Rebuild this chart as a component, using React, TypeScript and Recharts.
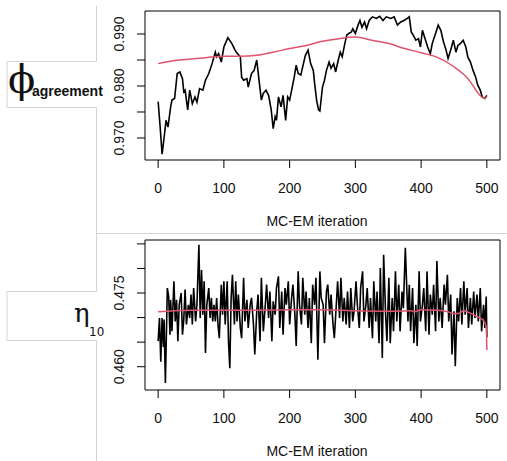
import { LineChart, Line, XAxis, YAxis, ReferenceArea } from "recharts";

// phi_agreement trace (MC-EM iteration, value)
const phiIter = [0, 3, 6, 9, 12, 15, 19, 21, 25, 29, 33, 37, 39, 41, 45, 48, 52, 56, 59, 63, 68, 72, 77, 82, 87, 89, 92, 96, 100, 106, 112, 117, 119, 125, 127, 130, 135, 137, 142, 146, 150, 154, 157, 160, 164, 168, 172, 175, 178, 180, 183, 187, 190, 194, 197, 200, 204, 207, 210, 213, 217, 221, 224, 228, 232, 236, 238, 241, 244, 246, 250, 253, 256, 260, 263, 267, 270, 274, 277, 280, 284, 287, 290, 294, 296, 300, 304, 307, 310, 314, 317, 321, 326, 332, 337, 342, 347, 354, 359, 364, 369, 374, 379, 382, 385, 388, 392, 396, 399, 402, 406, 410, 414, 417, 422, 426, 430, 434, 438, 441, 445, 449, 453, 456, 460, 464, 468, 471, 475, 479, 483, 486, 490, 493, 497, 500];
const phiValue = [0.977, 0.9722, 0.9669, 0.97, 0.9734, 0.9721, 0.976, 0.9773, 0.9776, 0.9824, 0.9827, 0.9814, 0.9789, 0.9792, 0.9754, 0.9792, 0.9766, 0.9779, 0.9769, 0.9795, 0.9792, 0.9811, 0.9824, 0.9843, 0.9865, 0.9856, 0.9862, 0.9846, 0.9875, 0.9893, 0.9882, 0.9869, 0.9865, 0.9856, 0.9817, 0.9811, 0.9814, 0.9798, 0.9824, 0.983, 0.985, 0.9805, 0.9773, 0.9786, 0.9792, 0.9782, 0.9754, 0.9718, 0.9741, 0.9734, 0.9779, 0.976, 0.9782, 0.9734, 0.9779, 0.9773, 0.9798, 0.9817, 0.984, 0.9824, 0.9821, 0.9843, 0.9859, 0.9869, 0.9843, 0.983, 0.9805, 0.9773, 0.9754, 0.9752, 0.9798, 0.9811, 0.983, 0.9846, 0.9834, 0.9843, 0.9827, 0.985, 0.9865, 0.9856, 0.9882, 0.9898, 0.9901, 0.9904, 0.991, 0.9901, 0.9917, 0.9926, 0.9913, 0.9923, 0.991, 0.9926, 0.9933, 0.993, 0.9934, 0.9926, 0.9933, 0.993, 0.9933, 0.9917, 0.9923, 0.9926, 0.993, 0.9933, 0.9904, 0.9898, 0.9888, 0.9891, 0.9875, 0.9907, 0.9891, 0.9875, 0.9862, 0.9882, 0.9901, 0.9917, 0.9907, 0.9885, 0.9869, 0.9853, 0.9869, 0.9888, 0.9865, 0.9878, 0.9882, 0.9888, 0.9875, 0.9856, 0.9846, 0.983, 0.9817, 0.9802, 0.9792, 0.9779, 0.9776, 0.9782];

// running mean of phi_agreement
const phiMeanIter = [0, 25, 50, 75, 100, 125, 150, 175, 200, 225, 250, 275, 300, 325, 350, 375, 400, 425, 450, 465, 475, 485, 492, 497, 500];
const phiMeanValue = [0.9843, 0.9849, 0.9852, 0.9855, 0.9857, 0.9857, 0.9859, 0.9865, 0.9872, 0.9878, 0.9886, 0.9891, 0.9894, 0.9888, 0.9882, 0.9872, 0.9864, 0.9855, 0.9837, 0.9822, 0.9808, 0.9789, 0.9779, 0.9776, 0.978];

// eta_10 trace
const etaIter = [0, 2, 4, 6, 8, 9, 11, 14, 16, 18, 19, 21, 24, 26, 28, 30, 32, 35, 37, 39, 41, 43, 46, 48, 50, 52, 54, 57, 59, 62, 64, 66, 68, 70, 72, 74, 77, 79, 81, 83, 85, 87, 89, 91, 93, 96, 98, 100, 102, 105, 107, 109, 111, 113, 116, 118, 120, 122, 125, 127, 130, 132, 135, 137, 140, 142, 145, 147, 150, 152, 155, 157, 160, 163, 165, 168, 170, 173, 175, 178, 180, 183, 185, 188, 190, 193, 195, 198, 200, 203, 205, 208, 210, 213, 215, 218, 220, 223, 225, 228, 230, 233, 235, 238, 240, 243, 246, 248, 251, 253, 256, 258, 261, 263, 266, 268, 271, 273, 276, 278, 281, 283, 286, 288, 291, 293, 296, 298, 301, 303, 306, 308, 311, 313, 316, 318, 321, 323, 326, 328, 331, 333, 336, 338, 341, 343, 346, 348, 351, 353, 356, 358, 361, 363, 366, 368, 371, 373, 376, 380, 382, 384, 387, 389, 392, 394, 397, 399, 402, 404, 407, 409, 412, 414, 417, 419, 422, 424, 427, 429, 432, 435, 437, 440, 442, 445, 447, 450, 452, 455, 457, 460, 462, 465, 467, 470, 472, 475, 477, 480, 482, 485, 487, 490, 492, 495, 497, 499, 500];
const etaValue = [0.4652, 0.4699, 0.461, 0.4699, 0.464, 0.4696, 0.4567, 0.476, 0.4743, 0.4665, 0.4736, 0.4672, 0.4774, 0.4692, 0.4736, 0.4652, 0.4726, 0.475, 0.4665, 0.4696, 0.4757, 0.4686, 0.4726, 0.4699, 0.4747, 0.4686, 0.476, 0.4692, 0.4726, 0.4848, 0.4699, 0.4797, 0.4706, 0.4774, 0.4628, 0.4726, 0.476, 0.4699, 0.474, 0.4692, 0.4726, 0.4692, 0.474, 0.4686, 0.4658, 0.4767, 0.4706, 0.4774, 0.4686, 0.4774, 0.4652, 0.4597, 0.474, 0.4787, 0.4686, 0.4774, 0.4692, 0.4747, 0.4679, 0.4658, 0.4781, 0.4692, 0.4736, 0.4679, 0.4726, 0.474, 0.4686, 0.4625, 0.4713, 0.4747, 0.4652, 0.4781, 0.4672, 0.4726, 0.4767, 0.4699, 0.4753, 0.4652, 0.4733, 0.4706, 0.476, 0.4784, 0.4679, 0.4753, 0.4665, 0.476, 0.4726, 0.4774, 0.4686, 0.474, 0.4767, 0.4706, 0.4642, 0.4794, 0.4726, 0.4686, 0.4781, 0.4706, 0.4753, 0.4679, 0.474, 0.4648, 0.4767, 0.4726, 0.4781, 0.4614, 0.4794, 0.474, 0.4726, 0.4648, 0.4753, 0.4767, 0.4706, 0.4747, 0.4686, 0.4658, 0.4726, 0.4774, 0.4699, 0.4781, 0.4692, 0.474, 0.4686, 0.4753, 0.4679, 0.476, 0.4692, 0.4713, 0.4774, 0.4726, 0.4679, 0.476, 0.4794, 0.4692, 0.4726, 0.476, 0.4679, 0.474, 0.4658, 0.4774, 0.4692, 0.4753, 0.4648, 0.4801, 0.4618, 0.4828, 0.4706, 0.4652, 0.4781, 0.4648, 0.474, 0.4672, 0.4794, 0.4692, 0.4767, 0.4672, 0.4753, 0.4719, 0.4842, 0.4692, 0.4767, 0.4672, 0.476, 0.4648, 0.4726, 0.4642, 0.4794, 0.4692, 0.4726, 0.476, 0.4672, 0.4794, 0.4665, 0.4747, 0.4706, 0.4767, 0.4672, 0.4815, 0.4692, 0.474, 0.4679, 0.4767, 0.4726, 0.4787, 0.4692, 0.4747, 0.4625, 0.4713, 0.4601, 0.474, 0.4692, 0.476, 0.4686, 0.4774, 0.4706, 0.476, 0.4679, 0.474, 0.4686, 0.4753, 0.4699, 0.4747, 0.4692, 0.476, 0.4672, 0.4726, 0.4679, 0.4743, 0.466];

// running mean of eta_10
const etaMeanIter = [0, 25, 50, 100, 150, 200, 250, 300, 350, 385, 390, 400, 420, 440, 450, 458, 465, 475, 485, 493, 497, 499, 500];
const etaMeanValue = [0.4712, 0.4714, 0.4715, 0.4715, 0.4715, 0.4716, 0.4716, 0.4714, 0.4713, 0.4714, 0.4712, 0.4716, 0.4715, 0.4712, 0.4708, 0.4709, 0.4714, 0.4709, 0.4702, 0.4696, 0.469, 0.468, 0.4634];

const xTicks = [0, 100, 200, 300, 400, 500];
const phiTicks = [0.97, 0.975, 0.98, 0.985, 0.99];
const phiLabels = [0.97, 0.98, 0.99];
const etaTicks = [0.46, 0.465, 0.47, 0.475, 0.48, 0.485];
const etaLabels = [0.46, 0.475];

const zip = (xs: number[], ys: number[]) => xs.map((x, i) => ({ x, y: ys[i] }));

const FONT = "'Liberation Sans', Arial, Helvetica, sans-serif";
const RED = "#DF536B";
const GRAY = "#d4d4d4";

function XTick({ x, y, payload }: any) {
  return (
    <text x={x} y={y + 24.7} textAnchor="middle" fontSize={14} fontFamily={FONT} fill="#111">
      {payload.value}
    </text>
  );
}

function makeYTick(labels: number[]) {
  return function YTick({ x, y, payload }: any) {
    if (!labels.some((l) => Math.abs(l - payload.value) < 1e-9)) return <g />;
    return (
      <text
        transform={`translate(${x - 12.7},${y}) rotate(-90)`}
        textAnchor="middle"
        fontSize={14}
        fontFamily={FONT}
        fill="#111"
      >
        {payload.value.toFixed(3)}
      </text>
    );
  };
}

function TracePanel({
  trace,
  mean,
  domain,
  ticks,
  labels,
  height,
  margin,
  width: lw,
}: {
  trace: { x: number; y: number }[];
  mean: { x: number; y: number }[];
  domain: [number, number];
  ticks: number[];
  labels: number[];
  height: number;
  margin: { top: number; right: number; bottom: number; left: number };
  width: number;
}) {
  return (
    <LineChart width={507} height={height} margin={margin}>
      <XAxis
        type="number"
        dataKey="x"
        domain={[-20, 520]}
        ticks={xTicks}
        interval={0}
        allowDataOverflow
        axisLine={false}
        height={30}
        tickSize={8}
        tickMargin={0}
        tickLine={{ stroke: "#000" }}
        tick={<XTick />}
      />
      <YAxis
        type="number"
        dataKey="y"
        domain={domain}
        ticks={ticks}
        interval={0}
        allowDataOverflow
        width={145}
        axisLine={false}
        tickSize={8}
        tickMargin={0}
        tickLine={{ stroke: "#000" }}
        tick={makeYTick(labels)}
      />
      <Line
        data={trace}
        dataKey="y"
        type="linear"
        stroke="#000"
        strokeWidth={lw}
        dot={false}
        isAnimationActive={false}
      />
      <Line
        data={mean}
        dataKey="y"
        type="monotone"
        stroke={RED}
        strokeWidth={1.5}
        dot={false}
        isAnimationActive={false}
      />
      <ReferenceArea
        x1={-20}
        x2={520}
        y1={domain[0]}
        y2={domain[1]}
        fill="none"
        fillOpacity={0}
        stroke="#000"
        strokeWidth={1}
      />
    </LineChart>
  );
}

export default function App() {
  return (
    <div
      style={{
        position: "absolute",
        left: 0,
        top: 0,
        width: 507,
        height: 461,
        background: "#fff",
        overflow: "hidden",
      }}
    >
      <div style={{ position: "absolute", left: 0, top: 0 }}>
        <TracePanel
          trace={zip(phiIter, phiValue)}
          mean={zip(phiMeanIter, phiMeanValue)}
          domain={[0.96577, 0.99442]}
          ticks={phiTicks}
          labels={phiLabels}
          height={235}
          margin={{ top: 11, right: 7, bottom: 45, left: 0 }}
          width={1.6}
        />
      </div>
      <div style={{ position: "absolute", left: 0, top: 235 }}>
        <TracePanel
          trace={zip(etaIter, etaValue)}
          mean={zip(etaMeanIter, etaMeanValue)}
          domain={[0.45526, 0.48579]}
          ticks={etaTicks}
          labels={etaLabels}
          height={226}
          margin={{ top: 5, right: 7, bottom: 41, left: 0 }}
          width={1.6}
        />
      </div>
      <svg
        width={507}
        height={461}
        style={{ position: "absolute", left: 0, top: 0, pointerEvents: "none" }}
      >
        <g stroke={GRAY} strokeWidth={1} fill="none">
          <polyline points="96.5,6 96.5,61.5 7,61.5 7,107.5 96.5,107.5 96.5,291.5 7,291.5 7,340.5 96.5,340.5 96.5,461" />
          <line x1={96} y1={233.5} x2={507} y2={233.5} />
        </g>
        <text x={317} y={226} textAnchor="middle" fontSize={14} fontFamily={FONT} fill="#111">
          MC-EM iteration
        </text>
        <text x={317} y={456} textAnchor="middle" fontSize={14} fontFamily={FONT} fill="#111">
          MC-EM iteration
        </text>
        <text x={8} y={93} fontSize={40} fontFamily="'DejaVu Serif', serif" fill="#111">
          ϕ
        </text>
        <text x={32} y={96} fontSize={14} fontWeight="bold" fontFamily={FONT} fill="#111">
          agreement
        </text>
        <text x={74} y={322} fontSize={26} fontFamily="'DejaVu Serif', serif" fill="#111">
          η
        </text>
        <text x={89} y={336} fontSize={12} fontFamily="'DejaVu Sans', sans-serif" fill="#111">
          10
        </text>
      </svg>
    </div>
  );
}
